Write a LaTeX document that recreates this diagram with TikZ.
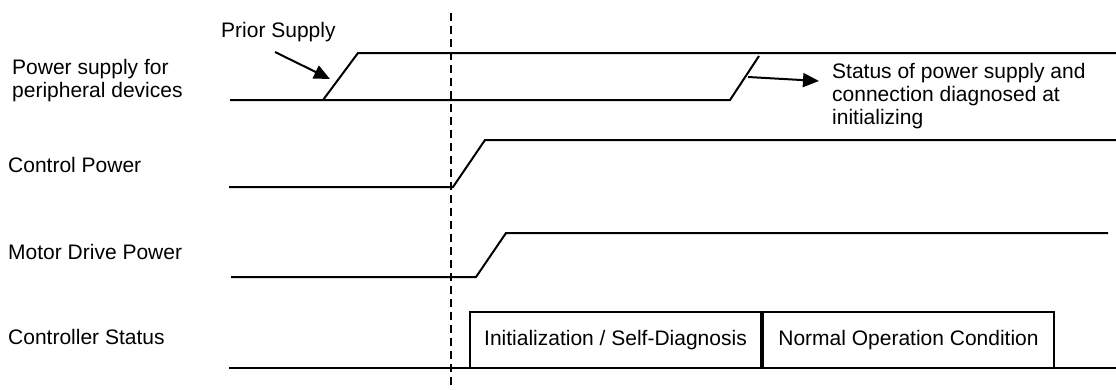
\documentclass[tikz,border=0pt]{standalone}
\usepackage{fontspec}
\setmainfont{Liberation Sans}
\usetikzlibrary{arrows.meta}

\begin{document}
\begin{tikzpicture}[x=1pt, y=-1pt,
  lbl/.style={anchor=base west, inner sep=0pt, align=left, font=\fontsize{21}{23}\selectfont},
  trace/.style={line width=2pt, line join=miter},
  arrow/.style={-{Triangle[length=16pt, width=14pt]}, line width=2pt},
  statebox/.style={draw, line width=2pt, minimum width=291pt, minimum height=56pt, inner sep=0pt, anchor=south west, font=\fontsize{21}{23}\selectfont}]
\useasboundingbox (0,0) rectangle (1116,389);
% signal names
\node[lbl] (pslbl) at (12,97) {Power supply for\\peripheral devices};
\node[lbl] (cplbl) at (8,172) {Control Power};
\node[lbl] (mdlbl) at (8,259) {Motor Drive Power};
\node[lbl] (cslbl) at (8,344) {Controller Status};
% traces
\draw[trace] (230,100) -- (730,100) -- (759,56);
\draw[trace] (323,100) -- (358,53) -- (1116,53);
\draw[trace] (229,187) -- (453,187) -- (485,140) -- (1116,140);
\draw[trace] (231,277) -- (476,277) -- (506,233) -- (1108,233);
\draw[trace] (229,368) -- (1116,368);
% power-on instant
\draw[line width=2pt, dash pattern=on 8pt off 5pt] (451,13) -- (451,389);
% controller states
\node[statebox, fill=white] (initbox) at (469,369) {Initialization / Self-Diagnosis};
\node[statebox, fill=white] (normbox) at (initbox.south east) {Normal Operation Condition};
% annotations
\node[lbl] (prior) at (221,37) {Prior Supply};
\node[lbl] (status) at (832,124) {Status of power supply and\\connection diagnosed at\\initializing};
\coordinate (priortail) at (275,52);
\coordinate (priorhead) at (330,79);
\coordinate (diagtail) at (748,77);
\coordinate (diaghead) at (819,81);
\draw[arrow] (priortail) -- (priorhead);
\draw[arrow] (diagtail) -- (diaghead);
\end{tikzpicture}
\end{document}
